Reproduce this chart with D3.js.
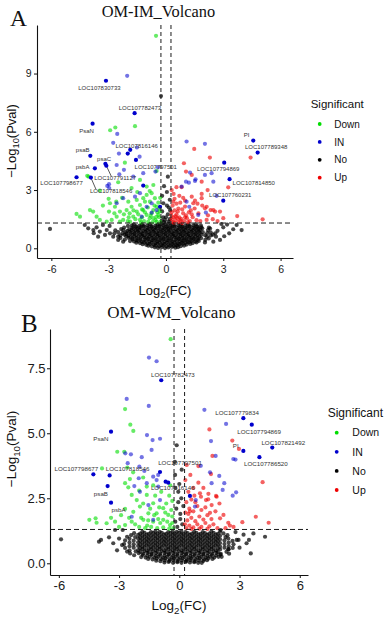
<!DOCTYPE html>
<html lang="en">
<head>
<meta charset="UTF-8">
<title>Volcano plots</title>
<script src="https://d3js.org/d3.v7.min.js"></script>
<style>
  html, body { margin: 0; padding: 0; background: #fff; }
  svg { display: block; font-family: "Liberation Sans", Arial, sans-serif; }
</style>
</head>
<body>
<div id="chart"></div>
<script>
// ---------- data ----------
const xTicks = [-6, -3, 0, 3, 6];
const yTicksA = [0, 3, 6, 9];
const yTicksB = [0, 2.5, 5, 7.5];
const groups = ["Down", "IN", "No", "Up"];
const fcCut = 0.263;   // |log2 FC| cut-off
const pCut = 1.301;    // -log10(0.05)

// panel A : OM-IM
const downA = [[-0.52,10.94],[-2.92,6.08],[-2.65,6.22],[-1.62,6.29],[-2.15,4.41],[-0.49,3.98],[-4.05,3.69],[-4.12,3.73],[-1.36,3.52],[-1.01,3.18],[-0.66,3.26],
  [-3.46,2.97],[-2.93,2.32],[-2.98,1.89],[-3.98,1.97],[-3.81,1.89],[-3.63,1.63],[-3.46,1.46],[-3.1,1.37],[-4.68,1.77],[-4.5,1.63],[-2.67,2.14],[-2.41,1.89],[-2.58,1.63],[-2.24,1.46],[-1.97,2.4],[-1.8,2.14],[-1.53,2.49],[-1.36,2.23],[-1.19,2.58],[-1.01,2.75],[-0.75,2.84],[-0.84,2.4],[-0.58,2.58],[-0.49,2.14],[-1.71,1.63],[-1.36,1.46],[-1.01,1.72],[-0.66,1.55],[-0.4,1.72],[-1.88,1.37],[-0.49,1.37],[-0.93,1.37],[-2.41,1.37],[-2.84,1.46],[-1.53,1.89],[-1.19,1.97],[-2.06,1.97],[-0.66,1.97],
  [-1.6,1.5],[-1.25,1.6],[-0.85,1.55],[-0.55,1.45],[-0.35,1.6],[-0.45,1.85],[-0.75,1.8],[-1.1,1.85],[-1.45,1.75],[-1.7,1.95],[-0.35,2.05],[-0.6,2.2],[-0.95,2.1],[-1.25,2.0],[-0.3,1.35],[-0.7,1.35],[-1.15,1.4],[-1.95,1.6],[-2.2,1.75],[-2.0,1.4],[-0.4,2.35],[-1.1,2.4],[-0.3,2.6],[-0.85,2.95],[-1.5,2.9],[-2.3,2.6],[-2.6,2.4],[-3.3,2.2],[-3.0,2.55],[-1.8,3.1],[-2.5,3.4],[-1.3,1.33],[-0.8,1.68],[-0.5,1.62],[-0.32,1.9],[-1.9,1.8],[-2.7,1.8]];
const upA = [[1.48,5.12],[2.3,4.67],[0.94,4.38],[1.35,3.78],[1.87,3.43],[4.43,4.67],[1.05,3.95],[3.26,3.14],[2.18,3.0],[1.87,2.8],[1.35,2.66],[1.52,2.45],[2.04,2.06],[2.34,1.97],[2.57,1.89],[2.13,1.46],[3.73,1.66],[5.06,1.49],[0.82,3.15],[1.87,2.58],[2.13,2.14],[1.43,2.32],[2.48,1.97],[2.83,1.89],
  [0.35,1.35],[0.5,1.45],[0.65,1.35],[0.8,1.5],[0.95,1.4],[1.1,1.55],[1.25,1.4],[1.4,1.6],[1.6,1.45],[0.4,1.6],[0.55,1.75],[0.7,1.6],[0.9,1.8],[1.05,1.7],[1.2,1.85],[1.35,1.75],[0.3,1.85],[0.45,1.95],[0.65,2.05],[0.85,2.0],[1.0,2.15],[0.35,2.2],[0.55,2.3],[0.75,2.35],[1.5,2.05],[1.7,1.8],[1.8,1.4],[0.3,1.5],[0.6,1.55],[0.85,1.3],[1.15,1.35],[0.45,2.55],[0.7,2.7],[1.0,2.45],[0.3,3.0],[0.55,3.15],[0.4,2.8],[1.9,2.2],[2.2,1.7],[2.45,1.5],[2.7,1.4],[3.0,1.55],[1.65,2.3],[0.42,1.32],[0.75,1.42],[1.0,1.6],[0.5,1.65],[0.28,1.7],[0.62,1.9],[1.3,1.95],[0.38,2.4],[0.9,2.6]];
const inA = [[-2.03,8.88],[-2.55,5.89],[-2.76,5.43],[-2.46,4.88],[-1.52,5.19],[-1.38,4.72],[-3.07,3.21],[-2.98,3.3],[-0.42,4.17],[-2.58,4.29],[-2.2,4.04],[-2.44,3.81],[-1.71,3.69],[-1.19,3.87],[-0.55,3.95],[-2.97,3.1],[-2.58,2.32],[-2.24,2.58],[-1.62,2.66],[-1.36,2.84],[-0.75,2.32],[-0.49,1.97],[-1.01,2.14],[-1.27,1.63],[-0.75,1.84],
  [1.08,5.5],[2.04,5.38],[1.26,3.9],[1.05,3.43],[1.52,3.47],[2.04,3.78],[2.39,3.87],[1.2,3.38],[1.55,3.55],[2.48,3.43],[2.65,2.7],[1.69,1.72],[2.09,1.84],[1.08,2.4],[1.22,2.14],[0.82,3.18]];
const inStrongA = [[-2.0,4.88],[-1.19,3.23],[-0.31,2.14]];
const labelGenesA = [["LOC107830733",-3.14,8.63],["LOC107782473",-1.64,6.96],["PsaN",-3.84,6.42],["LOC107816146",-1.87,5.07],["psaB",-3.96,4.76],["psaC",-3.17,4.35],["psbA",-3.72,4.12],["LOC107797501",-1.57,4.55],["LOC107791127",-3.12,4.25],["LOC107798677",-4.68,3.66],["LOC107818546",-3.93,3.64],
  ["PI",4.57,5.55],["LOC107789348",4.8,4.93],["LOC107794869",3.05,4.41],["LOC107814850",3.33,3.56],["LOC107760231",3.0,2.45]];
const noA = [
  [-0.58,0.05],[-0.41,0.02],[-0.22,0.06],[-0.05,0.01],[0.12,0.04],[0.31,0.07],[0.49,0.03],[0.63,0.06],
  [-0.92,0.13],[-0.74,0.1],[-0.55,0.14],[-0.36,0.11],[-0.17,0.15],[0.02,0.1],[0.21,0.13],[0.4,0.12],[0.58,0.15],[0.77,0.11],[0.95,0.14],
  [-1.22,0.21],[-1.03,0.18],[-0.84,0.22],[-0.63,0.19],[-0.44,0.23],[-0.26,0.18],[-0.07,0.21],[0.13,0.19],[0.32,0.22],[0.51,0.18],[0.7,0.21],[0.89,0.23],[1.08,0.19],[1.27,0.22],
  [-1.55,0.29],[-1.36,0.27],[-1.16,0.3],[-0.97,0.26],[-0.77,0.29],[-0.56,0.27],[-0.36,0.31],[-0.16,0.26],[0.04,0.29],[0.24,0.27],[0.43,0.3],[0.63,0.26],[0.82,0.29],[1.02,0.28],[1.21,0.31],[1.4,0.27],[1.6,0.3],
  [-1.88,0.37],[-1.67,0.35],[-1.47,0.38],[-1.27,0.34],[-1.06,0.37],[-0.86,0.35],[-0.66,0.39],[-0.46,0.34],[-0.25,0.37],[-0.05,0.35],[0.15,0.38],[0.35,0.34],[0.55,0.37],[0.74,0.36],[0.94,0.39],[1.13,0.34],[1.33,0.37],[1.53,0.35],[1.72,0.38],
  [-2.15,0.45],[-1.74,0.46],[-1.54,0.42],[-1.33,0.45],[-1.12,0.44],[-0.92,0.47],[-0.72,0.42],[-0.51,0.45],[-0.31,0.43],[-0.11,0.46],[0.09,0.42],[0.29,0.45],[0.5,0.44],[0.69,0.47],[0.88,0.42],[1.08,0.45],[1.27,0.43],[1.47,0.46],[1.67,0.44],[2.06,0.43],
  [-2.38,0.53],[-1.96,0.54],[-1.76,0.5],[-1.55,0.53],[-1.35,0.52],[-1.14,0.55],[-0.94,0.5],[-0.73,0.53],[-0.53,0.51],[-0.33,0.54],[-0.13,0.5],[0.07,0.53],[0.27,0.52],[0.47,0.55],[0.67,0.5],[0.86,0.53],[1.06,0.51],[1.25,0.54],[1.45,0.5],[1.65,0.53],[1.84,0.52],[2.24,0.51],
  [-2.5,0.61],[-2.08,0.62],[-1.87,0.58],[-1.66,0.61],[-1.45,0.6],[-1.25,0.63],[-1.04,0.58],[-0.84,0.61],[-0.63,0.59],[-0.43,0.62],[-0.23,0.58],[-0.03,0.61],[0.17,0.6],[0.37,0.63],[0.57,0.58],[0.77,0.61],[0.96,0.59],[1.16,0.62],[1.36,0.58],[1.55,0.61],[1.75,0.6],[2.15,0.59],[2.35,0.66],
  [-2.39,0.67],[-2.18,0.7],[-1.97,0.66],[-1.76,0.69],[-1.56,0.68],[-1.35,0.71],[-1.15,0.66],[-0.94,0.69],[-0.74,0.67],[-0.53,0.7],[-0.33,0.66],[-0.13,0.69],[0.07,0.68],[0.27,0.71],[0.47,0.66],[0.67,0.69],[0.87,0.67],[1.06,0.7],[1.26,0.66],[1.46,0.69],[1.66,0.68],[1.85,0.71],[2.05,0.67],[2.46,0.7],
  [-2.7,0.77],[-2.27,0.78],[-2.06,0.74],[-1.85,0.77],[-1.65,0.76],[-1.44,0.79],[-1.24,0.74],[-1.03,0.77],[-0.83,0.75],[-0.62,0.78],[-0.42,0.74],[-0.22,0.77],[-0.02,0.76],[0.18,0.79],[0.38,0.74],[0.58,0.77],[0.78,0.75],[0.97,0.78],[1.17,0.74],[1.37,0.77],[1.57,0.76],[1.76,0.79],[2.16,0.78],[2.58,0.77],
  [-2.5,0.83],[-2.09,0.82],[-1.88,0.85],[-1.67,0.84],[-1.47,0.87],[-1.26,0.82],[-1.06,0.85],[-0.85,0.83],[-0.65,0.86],[-0.45,0.82],[-0.25,0.85],[-0.05,0.84],[0.15,0.87],[0.35,0.82],[0.55,0.85],[0.75,0.83],[0.94,0.86],[1.14,0.82],[1.34,0.85],[1.54,0.84],[1.73,0.87],[1.93,0.83],[2.34,0.82],
  [-2.65,0.93],[-2.23,0.94],[-2.02,0.9],[-1.81,0.93],[-1.6,0.92],[-1.4,0.95],[-1.19,0.9],[-0.99,0.93],[-0.78,0.91],[-0.58,0.94],[-0.38,0.9],[-0.18,0.93],[0.02,0.92],[0.22,0.95],[0.42,0.9],[0.62,0.93],[0.82,0.91],[1.01,0.94],[1.21,0.9],[1.41,0.93],[1.61,0.92],[1.8,0.95],[2.2,0.94],
  [-2.34,0.99],[-1.92,0.98],[-1.71,1.01],[-1.5,1.0],[-1.3,1.03],[-1.09,0.98],[-0.89,1.01],[-0.68,0.99],[-0.48,1.02],[-0.28,0.98],[-0.08,1.01],[0.12,1.0],[0.32,1.03],[0.52,0.98],[0.72,1.01],[0.91,0.99],[1.11,1.02],[1.31,0.98],[1.51,1.01],[1.7,1.0],[1.9,1.03],[2.31,1.02],
  [-2.19,1.07],[-1.77,1.06],[-1.56,1.09],[-1.36,1.08],[-1.15,1.11],[-0.95,1.06],[-0.74,1.09],[-0.54,1.07],[-0.34,1.1],[-0.14,1.06],[0.06,1.09],[0.26,1.08],[0.46,1.11],[0.66,1.06],[0.85,1.09],[1.05,1.07],[1.25,1.1],[1.45,1.06],[1.64,1.09],[1.84,1.08],[2.25,1.07],
  [-1.99,1.15],[-1.78,1.18],[-1.57,1.14],[-1.37,1.17],[-1.16,1.16],[-0.96,1.19],[-0.75,1.14],[-0.55,1.17],[-0.35,1.15],[-0.15,1.18],[0.05,1.14],[0.25,1.17],[0.45,1.16],[0.65,1.19],[0.85,1.14],[1.04,1.17],[1.24,1.15],[1.44,1.18],[1.63,1.14],[1.83,1.17],
  [-1.68,1.23],[-1.26,1.22],[-0.85,1.24],[-0.44,1.22],[-0.24,1.25],[-0.04,1.24],[0.16,1.27],[0.36,1.22],[0.76,1.23],[1.15,1.22],[1.55,1.24],
  [-0.26,7.84],[0.1,3.69],[-0.14,2.32],[0.05,2.9],[-0.1,3.2],[0.15,2.1],[-0.2,1.9],[0.0,1.6],[0.2,1.5],[-0.05,1.45],[0.1,1.75],[-0.15,1.6],[0.2,2.5],[-0.2,2.7],[0.05,2.2],[-0.1,1.35],[0.15,1.38],[0.22,1.95],[-0.22,1.42],
  [-6.07,1.0],[-4.07,1.03],[-3.8,0.94],[-3.63,1.08],[-3.46,0.86],[-3.1,0.94],[-2.93,0.77],[-3.78,0.78],[-3.19,0.69],[-2.76,0.6],[-2.5,0.43],[-2.24,0.34],[-3.3,1.2],[-2.95,1.15],[-4.25,1.2],[-3.55,0.6],
  [3.96,0.94],[3.52,0.98],[3.31,0.77],[2.83,0.43],[3.0,1.08],[2.48,0.34],[2.04,0.3],[2.7,0.9],[3.2,1.22],[2.62,0.6],[3.05,0.62],[2.9,1.25],[3.7,1.2]];

// panel B : OM-WM
const downB = [[-0.43,8.62],[-2.7,5.93],[-2.44,5.33],[-2.29,5.09],[-3.09,4.29],[-2.74,4.29],[-3.85,3.65],[-2.59,3.68],[-2.46,3.24],[-1.62,2.95],[-2.54,2.92],[-2.7,3.08],[-2.37,2.63],[-2.12,2.43],[-1.62,2.63],[-1.3,2.31],[-1.96,2.18],[-2.7,2.09],[-4.48,1.67],[-4.17,1.73],[-4.12,1.56],[-3.62,1.54],[-3.2,1.6],[-2.9,1.85],
  [-2.29,1.98],[-1.54,1.92],[-1.13,1.92],[-0.8,2.12],[-1.79,1.67],[-1.3,1.6],[-0.8,1.67],[-0.55,1.86],[-2.37,1.6],[-2.7,1.47],[-0.46,1.47],
  [-2.0,1.4],[-1.7,1.35],[-1.4,1.4],[-1.1,1.35],[-0.8,1.38],[-0.5,1.33],[-0.35,1.55],[-0.6,1.6],[-0.95,1.55],[-1.25,1.85],[-1.55,1.65],[-1.9,1.75],[-2.2,1.5],[-0.35,1.8],[-0.4,2.05],[-0.65,2.3],[-1.0,2.15],[-1.45,2.1],[-1.8,2.3],[-0.5,2.6],[-0.9,2.75],[-1.2,2.6],[-2.0,2.8],[-1.8,3.3],[-2.3,3.5],[-0.35,2.4],[-2.5,1.75],[-3.0,1.4],[-1.05,1.7],[-0.7,1.95],[-1.6,1.45],[-0.45,3.0],[-3.4,1.75],[-0.3,1.35],[-1.3,3.0]];
const upB = [[1.5,5.15],[2.64,4.72],[2.97,4.4],[1.65,4.13],[0.37,3.78],[0.95,3.74],[1.58,3.43],[4.15,3.12],[1.45,2.67],[1.86,2.56],[1.03,2.69],[1.08,2.56],[1.33,2.43],[1.61,2.24],[0.53,2.0],[1.53,1.94],[2.03,1.73],[2.2,1.86],[3.14,1.58],[3.81,1.79],[4.45,1.56],[2.44,1.56],[2.52,1.45],[1.2,2.9],[1.44,2.46],[1.83,2.59],
  [0.35,1.35],[0.5,1.45],[0.7,1.38],[0.9,1.5],[1.1,1.4],[1.3,1.55],[1.5,1.42],[1.7,1.5],[1.9,1.35],[0.4,1.65],[0.6,1.75],[0.8,1.62],[1.0,1.8],[1.2,1.68],[1.4,1.85],[1.6,1.7],[0.3,1.95],[0.5,2.1],[0.7,2.0],[0.9,2.2],[1.1,2.05],[1.3,2.15],[0.35,2.35],[0.6,2.45],[0.8,2.35],[0.45,2.75],[0.7,2.9],[0.95,3.1],[0.3,3.2],[0.55,3.4],[2.3,1.35],[2.7,1.4],[0.28,1.5],[0.6,1.32],[1.0,1.33],[1.4,1.32],[0.45,1.9],[0.75,2.6],[1.8,2.0],[2.0,2.3]];
const inB = [[-1.51,7.91],[-1.13,7.77],[-2.62,6.32],[-1.52,6.05],[-1.61,4.93],[-1.33,4.74],[-0.96,4.79],[-1.38,4.36],[-2.69,4.23],[-2.41,4.19],[-1.87,4.08],[-2.57,3.85],[-1.99,3.72],[-1.74,3.55],[-1.3,3.33],[-1.05,3.4],[-2.02,3.27],[-2.24,2.97],[-1.05,2.95],[-1.62,3.08],[-1.13,3.2],[-2.37,1.79],[-1.54,2.24],[-0.96,2.43],[-1.3,1.67],[-1.96,2.75],
  [1.25,5.9],[2.33,5.36],[1.58,4.7],[2.69,4.01],[2.8,3.99],[1.81,4.13],[1.07,3.75],[1.61,3.08],[2.24,3.08],[2.16,2.82],[2.66,2.6],[2.83,2.73],[0.82,2.43],[0.78,2.18],[1.53,3.5],[1.99,3.36]];
const inStrongB = [[-0.55,3.1],[0.53,2.59]];
const labelGenesB = [["LOC107782473",-0.9,7.04],["PsaN",-3.4,5.06],["LOC107798677",-4.28,3.42],["LOC107818546",-3.47,3.38],["psaB",-3.57,2.97],["psbA",-3.4,2.33],["LOC107797501",-0.96,3.51],["LOC107816146",-0.68,3.14],
  ["LOC107779834",3.19,5.58],["LOC107794869",3.61,5.33],["PI",3.19,4.32],["LOC107821492",4.63,4.45],["LOC107786520",3.99,4.08]];
const noB = [
  [-0.74,0.03],[-0.53,0.05],[-0.31,0.02],[-0.1,0.04],[0.11,0.02],[0.32,0.05],[0.53,0.03],[0.74,0.04],[0.94,0.02],
  [-1.15,0.1],[-0.94,0.08],[-0.72,0.11],[-0.5,0.09],[-0.29,0.12],[-0.08,0.08],[0.13,0.11],[0.35,0.09],[0.56,0.12],[0.77,0.08],[0.98,0.11],[1.19,0.09],[1.38,0.12],
  [-1.55,0.17],[-1.33,0.15],[-1.12,0.18],[-0.9,0.16],[-0.69,0.19],[-0.47,0.15],[-0.26,0.18],[-0.05,0.16],[0.17,0.19],[0.38,0.15],[0.59,0.18],[0.8,0.16],[1.02,0.19],[1.23,0.15],[1.44,0.18],[1.65,0.17],
  [-1.9,0.24],[-1.68,0.22],[-1.47,0.25],[-1.25,0.23],[-1.04,0.26],[-0.82,0.22],[-0.61,0.25],[-0.39,0.23],[-0.18,0.26],[0.03,0.22],[0.25,0.25],[0.46,0.23],[0.67,0.26],[0.89,0.22],[1.1,0.25],[1.31,0.23],[1.53,0.26],[1.74,0.22],[1.95,0.25],
  [-2.25,0.31],[-1.82,0.32],[-1.6,0.3],[-1.39,0.33],[-1.17,0.29],[-0.96,0.32],[-0.74,0.3],[-0.53,0.33],[-0.31,0.29],[-0.1,0.32],[0.12,0.3],[0.33,0.33],[0.55,0.29],[0.76,0.32],[0.97,0.3],[1.19,0.33],[1.4,0.29],[1.62,0.32],[1.83,0.3],[2.04,0.33],
  [-2.45,0.38],[-2.02,0.39],[-1.8,0.37],[-1.59,0.4],[-1.37,0.36],[-1.16,0.39],[-0.94,0.37],[-0.73,0.4],[-0.51,0.36],[-0.3,0.39],[-0.08,0.37],[0.13,0.4],[0.35,0.36],[0.56,0.39],[0.78,0.37],[0.99,0.4],[1.21,0.36],[1.42,0.39],[1.64,0.37],[1.85,0.4],[2.07,0.36],[2.48,0.37],
  [-2.6,0.45],[-2.17,0.46],[-1.95,0.44],[-1.74,0.47],[-1.52,0.43],[-1.31,0.46],[-1.09,0.44],[-0.88,0.47],[-0.66,0.43],[-0.45,0.46],[-0.23,0.44],[-0.02,0.47],[0.2,0.43],[0.41,0.46],[0.63,0.44],[0.84,0.47],[1.06,0.43],[1.27,0.46],[1.49,0.44],[1.7,0.47],[1.92,0.43],[2.35,0.44],
  [-2.48,0.5],[-2.05,0.51],[-1.84,0.54],[-1.62,0.5],[-1.41,0.53],[-1.19,0.51],[-0.98,0.54],[-0.76,0.5],[-0.55,0.53],[-0.33,0.51],[-0.12,0.54],[0.1,0.5],[0.31,0.53],[0.53,0.51],[0.74,0.54],[0.96,0.5],[1.17,0.53],[1.39,0.51],[1.6,0.54],[1.82,0.5],[2.03,0.53],[2.46,0.54],
  [-2.7,0.59],[-2.27,0.6],[-1.95,0.58],[-1.73,0.61],[-1.52,0.57],[-1.3,0.6],[-1.09,0.58],[-0.87,0.61],[-0.66,0.57],[-0.44,0.6],[-0.23,0.58],[-0.01,0.61],[0.2,0.57],[0.42,0.6],[0.63,0.58],[0.85,0.61],[1.06,0.57],[1.28,0.6],[1.49,0.58],[1.71,0.61],[1.92,0.57],[2.25,0.6],[2.66,0.59],
  [-2.48,0.66],[-2.05,0.67],[-1.84,0.65],[-1.62,0.68],[-1.41,0.64],[-1.19,0.67],[-0.98,0.65],[-0.76,0.68],[-0.55,0.64],[-0.33,0.67],[-0.12,0.65],[0.1,0.68],[0.31,0.64],[0.53,0.67],[0.74,0.65],[0.96,0.68],[1.17,0.64],[1.39,0.67],[1.6,0.65],[1.82,0.68],[2.03,0.64],[2.46,0.66],
  [-2.75,0.74],[-2.27,0.73],[-1.95,0.72],[-1.73,0.75],[-1.52,0.71],[-1.3,0.74],[-1.09,0.72],[-0.87,0.75],[-0.66,0.71],[-0.44,0.74],[-0.23,0.72],[-0.01,0.75],[0.2,0.71],[0.42,0.74],[0.63,0.72],[0.85,0.75],[1.06,0.71],[1.28,0.74],[1.49,0.72],[1.71,0.75],[1.92,0.71],[2.25,0.74],[2.7,0.73],
  [-2.48,0.8],[-2.05,0.81],[-1.84,0.79],[-1.62,0.82],[-1.41,0.78],[-1.19,0.81],[-0.98,0.79],[-0.76,0.82],[-0.55,0.78],[-0.33,0.81],[-0.12,0.79],[0.1,0.82],[0.31,0.78],[0.53,0.81],[0.74,0.79],[0.96,0.82],[1.17,0.78],[1.39,0.81],[1.6,0.79],[1.82,0.82],[2.03,0.78],[2.46,0.8],
  [-2.7,0.88],[-2.27,0.87],[-1.95,0.86],[-1.73,0.89],[-1.52,0.85],[-1.3,0.88],[-1.09,0.86],[-0.87,0.89],[-0.66,0.85],[-0.44,0.88],[-0.23,0.86],[-0.01,0.89],[0.2,0.85],[0.42,0.88],[0.63,0.86],[0.85,0.89],[1.06,0.85],[1.28,0.88],[1.49,0.86],[1.71,0.89],[1.92,0.85],[2.25,0.88],[2.65,0.86],
  [-2.48,0.94],[-2.05,0.95],[-1.84,0.93],[-1.62,0.96],[-1.41,0.92],[-1.19,0.95],[-0.98,0.93],[-0.76,0.96],[-0.55,0.92],[-0.33,0.95],[-0.12,0.93],[0.1,0.96],[0.31,0.92],[0.53,0.95],[0.74,0.93],[0.96,0.96],[1.17,0.92],[1.39,0.95],[1.6,0.93],[1.82,0.96],[2.03,0.92],[2.44,0.95],
  [-2.6,1.02],[-2.2,1.01],[-1.95,1.0],[-1.73,1.03],[-1.52,0.99],[-1.3,1.02],[-1.09,1.0],[-0.87,1.03],[-0.66,0.99],[-0.44,1.02],[-0.23,1.0],[-0.01,1.03],[0.2,0.99],[0.42,1.02],[0.63,1.0],[0.85,1.03],[1.06,0.99],[1.28,1.02],[1.49,1.0],[1.71,1.03],[1.92,0.99],[2.3,1.01],
  [-2.4,1.08],[-2.05,1.09],[-1.84,1.07],[-1.62,1.1],[-1.41,1.06],[-1.19,1.09],[-0.98,1.07],[-0.76,1.1],[-0.55,1.06],[-0.33,1.09],[-0.12,1.07],[0.1,1.1],[0.31,1.06],[0.53,1.09],[0.74,1.07],[0.96,1.1],[1.17,1.06],[1.39,1.09],[1.6,1.07],[1.82,1.1],[2.03,1.06],[2.4,1.08],
  [-2.25,1.16],[-1.95,1.14],[-1.73,1.17],[-1.52,1.13],[-1.3,1.16],[-1.09,1.14],[-0.87,1.17],[-0.66,1.13],[-0.44,1.16],[-0.23,1.14],[-0.01,1.17],[0.2,1.13],[0.42,1.16],[0.63,1.14],[0.85,1.17],[1.06,1.13],[1.28,1.16],[1.49,1.14],[1.71,1.17],[1.92,1.13],[2.2,1.15],
  [-1.84,1.21],[-1.41,1.2],[-1.19,1.23],[-0.98,1.21],[-0.55,1.2],[-0.33,1.23],[-0.12,1.21],[0.1,1.24],[0.31,1.2],[0.74,1.21],[1.17,1.2],[1.6,1.22],[2.03,1.21],
  [-0.13,4.54],[-0.21,3.4],[-0.2,2.9],[-0.05,2.75],[0.1,2.5],[-0.15,2.1],[0.05,1.9],[-0.2,1.6],[0.15,1.5],[0.0,3.05],[0.2,2.2],[-0.1,1.4],[0.12,3.6],[-0.22,3.9],[0.05,1.7],[-0.05,2.35],
  [-5.89,0.92],[-4.0,0.83],[-3.9,0.9],[-3.29,0.77],[-2.82,1.28],[-3.2,1.28],[-3.5,1.0],[-3.0,0.95],[-2.85,0.7],[-3.1,0.5],
  [3.69,1.15],[4.27,1.02],[3.47,0.9],[3.35,0.77],[3.56,0.38],[2.95,0.9],[3.0,0.6],[2.06,1.28],[2.8,1.2],[3.2,1.1],[2.86,0.9],[2.44,0.54],[2.11,0.25],[1.12,0.02]];

// ---------- layout ----------
const W = 389, H = 625;
const colors = { Down: "#00dd00", IN: "#0000cd", No: "#000000", Up: "#ee0000" };
const opacity = { No: 0.72, Down: 0.6, Up: 0.62, IN: 0.55 };
const serif = "'Liberation Serif', 'Times New Roman', serif";

// label centre offsets (px) from their point, as placed in the figure
const nudgeA = {
  LOC107830733: [-6.5, 6.7], LOC107782473: [5.3, -5.6], PsaN: [-6, 7], LOC107816146: [6.4, -3.7],
  psaB: [-7.6, -6], psaC: [-1.3, -5.2], psbA: [-12.3, -1], LOC107797501: [19.8, 7],
  LOC107791127: [8.8, 12.5], LOC107798677: [-15, 6], LOC107818546: [20.2, 13.3],
  PI: [-6.6, -5.7], LOC107789348: [8.5, -5.8], LOC107794869: [-6, 6.6], LOC107814850: [24.2, 3.4], LOC107760231: [7, -5.7]
};
const nudgeB = {
  LOC107782473: [11.7, -5.3], PsaN: [-10.2, 7], LOC107798677: [-17, -6], LOC107818546: [18, -6.3],
  psaB: [-6.7, 7.3], psbA: [7.5, 7.3], LOC107797501: [20, -9.3], LOC107816146: [7.1, 6.6],
  LOC107779834: [-6.3, -5.6], LOC107794869: [7.3, 7], PI: [-7.6, -5.3], LOC107821492: [11, -5], LOC107786520: [6.5, 7]
};

const panels = [
  {
    tag: "A", tagX: 10, tagY: 26, tagSize: 23.5,
    title: "OM-IM_Volcano", titleX: 101.7, titleY: 16.7, titleSize: 16.4,
    left: 37, right: 293, top: 25, bottom: 258,
    xDomain: [-6.75, 6.65], yDomain: [-0.5, 11.5],
    yTicks: yTicksA, yFmt: d => String(d), tickFont: 10.5, xPad: 4.5, yPad: 2.3,
    axisFont: 13, xTitleY: 294.5, yTitleX: 15.5, yTitleY: 141,
    r: 2.1, labelFont: 6, nudge: nudgeA, leaders: ["LOC107791127", "LOC107818546"],
    legX: 310.7, legTitleY: 108.3, legTitleSize: 11.5, legDotX: 319.7, legTextX: 334.3, legY0: 124, legStep: 17.9, legFont: 10,
    data: { no: noA, down: downA, up: upA, inn: inA, strong: inStrongA, labels: labelGenesA }
  },
  {
    tag: "B", tagX: 21, tagY: 332, tagSize: 25,
    title: "OM-WM_Volcano", titleX: 107.3, titleY: 318.3, titleSize: 17,
    left: 50, right: 308, top: 329, bottom: 575,
    xDomain: [-6.44, 6.41], yDomain: [-0.45, 9.01],
    yTicks: yTicksB, yFmt: d3.format(".1f"), tickFont: 13, xPad: 3, yPad: 1.5,
    axisFont: 13.5, xTitleY: 609.5, yTitleX: 16, yTitleY: 449,
    r: 2.1, labelFont: 6.2, nudge: nudgeB, leaders: [],
    legX: 327.7, legTitleY: 416.5, legTitleSize: 12, legDotX: 336.7, legTextX: 352.3, legY0: 432.7, legStep: 19.1, legFont: 10.5,
    data: { no: noB, down: downB, up: upB, inn: inB, strong: inStrongB, labels: labelGenesB }
  }
];

const svg = d3.select("#chart").append("svg")
  .attr("width", W).attr("height", H).attr("viewBox", `0 0 ${W} ${H}`);
svg.append("rect").attr("width", W).attr("height", H).attr("fill", "#fff");

function drawPanel(cfg) {
  const x = d3.scaleLinear().domain(cfg.xDomain).range([cfg.left, cfg.right]);
  const y = d3.scaleLinear().domain(cfg.yDomain).range([cfg.bottom, cfg.top]);
  const g = svg.append("g");

  // scatter layers
  const layers = [
    [cfg.data.no, colors.No, opacity.No],
    [cfg.data.down, colors.Down, opacity.Down],
    [cfg.data.up, colors.Up, opacity.Up],
    [cfg.data.inn, colors.IN, opacity.IN],
    [cfg.data.strong, colors.IN, 1]
  ];
  layers.forEach(([pts, col, op]) => {
    g.append("g").selectAll("circle").data(pts).join("circle")
      .attr("cx", d => x(d[0])).attr("cy", d => y(d[1]))
      .attr("r", cfg.r).attr("fill", col).attr("fill-opacity", op);
  });

  // cut-off lines
  const cut = g.append("g").attr("stroke", "#1a1a1a").attr("stroke-width", 1).attr("fill", "none");
  [-fcCut, fcCut].forEach(v => {
    cut.append("line").attr("x1", x(v)).attr("x2", x(v)).attr("y1", cfg.top).attr("y2", cfg.bottom)
      .attr("stroke-dasharray", "4,3");
  });
  cut.append("line").attr("x1", cfg.left).attr("x2", cfg.right).attr("y1", y(pCut)).attr("y2", y(pCut))
    .attr("stroke-dasharray", "5,3");

  // labelled genes
  const lab = g.append("g");
  cfg.data.labels.forEach(([name, fc, p]) => {
    const px = x(fc), py = y(p);
    const [dx, dy] = cfg.nudge[name];
    const t = lab.append("text")
      .attr("x", px + dx).attr("y", py + dy + cfg.labelFont * 0.36)
      .attr("text-anchor", "middle").attr("font-size", cfg.labelFont).attr("fill", "#333")
      .text(name);
    if (cfg.leaders.includes(name)) {
      const b = t.node().getBBox();
      const ex = Math.max(b.x + 4, Math.min(px + 5, b.x + b.width));
      lab.append("line").attr("x1", px).attr("y1", py).attr("x2", ex).attr("y2", b.y + 1)
        .attr("stroke", "#111").attr("stroke-width", 0.7);
    }
    lab.append("circle").attr("cx", px).attr("cy", py).attr("r", cfg.r).attr("fill", colors.IN);
  });

  // axes
  const xa = g.append("g").attr("transform", `translate(0,${cfg.bottom})`)
    .call(d3.axisBottom(x).tickValues(xTicks).tickFormat(d => String(d))
      .tickSize(3).tickSizeOuter(0).tickPadding(cfg.xPad));
  const ya = g.append("g").attr("transform", `translate(${cfg.left},0)`)
    .call(d3.axisLeft(y).tickValues(cfg.yTicks).tickFormat(cfg.yFmt)
      .tickSize(3).tickSizeOuter(0).tickPadding(cfg.yPad));
  [xa, ya].forEach(a => {
    a.attr("font-size", cfg.tickFont).attr("font-family", "'Liberation Sans', Arial, sans-serif");
    a.select(".domain").attr("stroke", "#111").attr("stroke-width", 1.1);
    a.selectAll(".tick line").attr("stroke", "#111");
    a.selectAll(".tick text").attr("fill", "#1a1a1a");
  });

  // axis titles
  const sub = cfg.axisFont * 0.3;
  const xt = g.append("text").attr("x", (cfg.left + cfg.right) / 2).attr("y", cfg.xTitleY)
    .attr("text-anchor", "middle").attr("font-size", cfg.axisFont).attr("fill", "#111");
  xt.append("tspan").text("Log");
  xt.append("tspan").attr("font-size", cfg.axisFont * 0.72).attr("dy", sub).text("2");
  xt.append("tspan").attr("dy", -sub).text("(FC)");

  const yt = g.append("text").attr("transform", `translate(${cfg.yTitleX},${cfg.yTitleY}) rotate(-90)`)
    .attr("text-anchor", "middle").attr("font-size", cfg.axisFont).attr("fill", "#111");
  yt.append("tspan").text("\u2212Log");
  yt.append("tspan").attr("font-size", cfg.axisFont * 0.72).attr("dy", sub).text("10");
  yt.append("tspan").attr("dy", -sub).text("(Pval)");

  // title and panel tag
  svg.append("text").attr("x", cfg.titleX).attr("y", cfg.titleY)
    .attr("font-family", serif).attr("font-size", cfg.titleSize).attr("fill", "#111").text(cfg.title);
  svg.append("text").attr("x", cfg.tagX).attr("y", cfg.tagY)
    .attr("font-family", serif).attr("font-size", cfg.tagSize).attr("fill", "#111").text(cfg.tag);

  // legend
  const lg = svg.append("g");
  lg.append("text").attr("x", cfg.legX).attr("y", cfg.legTitleY)
    .attr("font-size", cfg.legTitleSize).attr("fill", "#111").text("Significant");
  groups.forEach((k, i) => {
    const cy = cfg.legY0 + i * cfg.legStep;
    lg.append("circle").attr("cx", cfg.legDotX).attr("cy", cy).attr("r", 1.9).attr("fill", colors[k]);
    lg.append("text").attr("x", cfg.legTextX).attr("y", cy + cfg.legFont * 0.36)
      .attr("font-size", cfg.legFont).attr("fill", "#111").text(k);
  });
}

panels.forEach(drawPanel);
</script>
</body>
</html>
